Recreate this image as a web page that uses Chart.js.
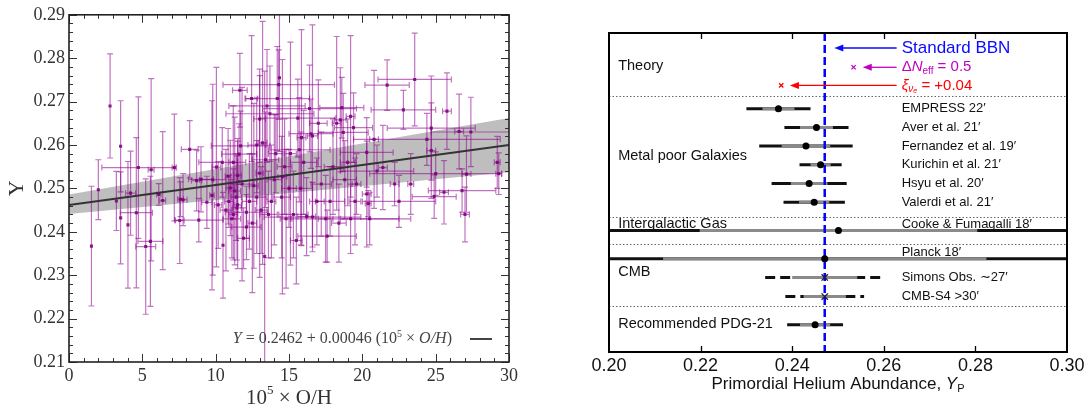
<!DOCTYPE html>
<html>
<head>
<meta charset="utf-8">
<script src="https://cdn.jsdelivr.net/npm/chart.js@4.4.1/dist/chart.umd.min.js"></script>
<style>
  html, body { margin: 0; padding: 0; background: #fff; }
  #wrap { position: relative; width: 1090px; height: 412px; overflow: hidden; }
  #left { position: absolute; left: 0; top: 0; }
  #right { position: absolute; left: 560px; top: 0; }
</style>
</head>
<body>
<div id="wrap">
  <canvas id="left" width="530" height="412"></canvas>
  <canvas id="right" width="530" height="412"></canvas>
</div>
<script>
// ---------- left panel: Y against 10^5 O/H ----------
const ohX = [1.53, 2.00, 2.80, 3.23, 3.52, 3.52, 4.02, 4.20, 4.59, 4.73, 5.23, 5.60, 5.55, 6.12, 6.39,
  7.18, 7.55, 7.60, 7.78, 8.23, 8.70, 9.00, 9.40, 8.85, 9.80, 9.75, 10.05, 10.17, 10.50, 10.45,
  10.85, 11.00, 11.30, 11.50, 11.65, 11.70, 11.60, 12.10, 12.10, 12.45, 12.60, 13.00, 13.34, 13.20,
  11.20, 10.70, 11.10, 11.40, 11.80, 12.30, 12.80, 11.90, 12.50, 12.80, 13.00, 10.90, 11.50,
  14.35, 14.30, 14.20, 13.50, 16.40, 13.70, 15.60, 15.10, 15.85, 16.60, 15.70, 13.40, 14.00, 14.50,
  14.80, 15.30, 15.80, 16.20, 16.60, 13.80, 14.55, 13.60, 15.00, 16.00, 16.50, 13.10, 14.70, 15.50,
  16.90, 14.10, 18.25, 19.20, 18.50, 19.40, 18.60, 18.70, 17.60, 19.20, 17.50, 18.00, 18.80, 19.50,
  17.20, 17.80, 19.00, 19.60, 17.00, 18.40, 20.30, 20.40, 20.30, 20.80, 21.40, 21.69, 22.20, 22.80,
  23.30, 23.57, 24.70, 24.70, 24.90, 25.57, 25.77, 26.60, 27.40, 27.10, 27.00, 29.30, 25.00, 29.20,
  24.40, 26.80, 21.00, 20.50, 22.50, 11.20, 11.45];
const heY = [0.2367, 0.2497, 0.2690, 0.2471, 0.2597, 0.2432, 0.2416, 0.2489, 0.2444, 0.2548, 0.2366, 0.2543, 0.2378, 0.2486, 0.2472,
  0.2548, 0.2426, 0.2475, 0.2474, 0.2590, 0.2518, 0.2521, 0.2468, 0.2427, 0.2520, 0.2484, 0.2549, 0.2462, 0.2369, 0.2560,
  0.2528, 0.2501, 0.2494, 0.2462, 0.2726, 0.2598, 0.2579, 0.2445, 0.2411, 0.2707, 0.2506, 0.2535, 0.2343, 0.2605,
  0.2560, 0.2450, 0.2430, 0.2480, 0.2510, 0.2470, 0.2480, 0.2385, 0.2420, 0.2600, 0.2660, 0.2470, 0.2530,
  0.2755, 0.2739, 0.2707, 0.2690, 0.2684, 0.2672, 0.2662, 0.2580, 0.2617, 0.2621, 0.2589, 0.2566, 0.2520, 0.2480,
  0.2430, 0.2440, 0.2500, 0.2435, 0.2434, 0.2470, 0.2527, 0.2440, 0.2500, 0.2560, 0.2626, 0.2450, 0.2550, 0.2380,
  0.2470, 0.2580, 0.2650, 0.2666, 0.2658, 0.2640, 0.2686, 0.2629, 0.2390, 0.2430, 0.2430, 0.2550, 0.2520, 0.2470,
  0.2510, 0.2470, 0.2560, 0.2510, 0.2650, 0.2420, 0.2583, 0.2465, 0.2487, 0.2613, 0.2548, 0.2738, 0.2510, 0.2681,
  0.2510, 0.2751, 0.2639, 0.2587, 0.2481, 0.2491, 0.2678, 0.2631, 0.2630, 0.2533, 0.2440, 0.2534, 0.2534, 0.2560,
  0.2613, 0.2495, 0.2540, 0.2430, 0.2470, 0.2440, 0.2455];
const ohErr = [0, 0, 0, 0, 0, 0, 0, 0.34, 1.10, 2.49, 0.68, 0.20, 0.85, 0.15, 0.20,
  0.15, 0.30, 0.20, 0.27, 0.57, 0.35, 0.85, 0.35, 1.65, 0.90, 0.15, 0.30, 0.25, 0, 1.60,
  0.20, 0.30, 0.40, 0.25, 0.50, 2.00, 1.20, 1.45, 1.00, 0.40, 0.30, 0.25, 0, 0.30,
  0.30, 0.40, 0.60, 0.35, 0.80, 0.50, 0.70, 0.40, 0.30, 0.60, 0.40, 0.30, 0.25,
  0, 3.80, 2.20, 2.60, 3.20, 3.00, 2.60, 0.40, 0.30, 0.35, 2.10, 0.90, 0.50, 0.60,
  0.40, 1.00, 0.80, 0.60, 3.30, 0.30, 0.30, 0.60, 0.50, 0.90, 1.50, 0.40, 0.50, 0.40,
  0.50, 0.50, 0.30, 0.30, 0.40, 1.30, 1.50, 1.70, 2.00, 4.10, 0.50, 0.60, 0.80, 0.40,
  0.70, 1.00, 0.50, 0.30, 0.60, 0.50, 1.80, 0.20, 0.30, 0.30, 0.30, 1.51, 0.30, 2.20,
  0.20, 2.50, 3.00, 0.30, 1.50, 0.30, 0.30, 0.30, 2.70, 0.30, 0.30, 0.20, 4.50, 0.20,
  5.00, 2.30, 2.50, 2.00, 2.50, 0.30, 0.30];
const heErr = [0.0138, 0.0069, 0.0120, 0.0068, 0.0105, 0.0106, 0.0146, 0.0097, 0.0173, 0.0163, 0.0156, 0.0210, 0.0150, 0.0025, 0.0159,
  0.0123, 0.0099, 0.0040, 0.0060, 0.0066, 0.0070, 0.0075, 0.0060, 0.0050, 0.0220, 0.0218, 0.0230, 0.0100, 0.0122, 0.0080,
  0.0110, 0.0110, 0.0170, 0.0147, 0.0085, 0.0080, 0.0070, 0.0060, 0.0075, 0.0145, 0.0190, 0.0240, 0.0427, 0.0280,
  0.0130, 0.0140, 0.0090, 0.0100, 0.0223, 0.0110, 0.0130, 0.0070, 0.0160, 0.0110, 0.0100, 0.0060, 0.0085,
  0.0170, 0.0080, 0.0120, 0.0130, 0.0100, 0.0110, 0.0090, 0.0257, 0.0249, 0.0256, 0.0120, 0.0110, 0.0150, 0.0140,
  0.0160, 0.0100, 0.0130, 0.0090, 0.0080, 0.0130, 0.0270, 0.0100, 0.0090, 0.0120, 0.0080, 0.0100, 0.0110, 0.0100,
  0.0100, 0.0090, 0.0200, 0.0186, 0.0120, 0.0080, 0.0070, 0.0090, 0.0060, 0.0080, 0.0100, 0.0110, 0.0090, 0.0100,
  0.0120, 0.0080, 0.0100, 0.0070, 0.0100, 0.0090, 0.0080, 0.0030, 0.0122, 0.0159, 0.0097, 0.0058, 0.0050, 0.0045,
  0.0070, 0.0107, 0.0120, 0.0110, 0.0050, 0.0073, 0.0088, 0.0086, 0.0080, 0.0088, 0.0063, 0.0048, 0.0050, 0.0060,
  0.0060, 0.0050, 0.0060, 0.0060, 0.0060, 0.0105, 0.0120];

// linear fit and its band
const fitX = [0, 30];
const fitY = [0.2462, 0.2600];
const bandHi = [0.2486, 0.2662];
const bandLo = [0.2441, 0.2537];

const ohTicks = [0, 5, 10, 15, 20, 25, 30];
const heTicks = [0.21, 0.22, 0.23, 0.24, 0.25, 0.26, 0.27, 0.28, 0.29];

// ---------- right panel: primordial helium summary ----------
const groupNames = ['Theory', 'Metal poor Galaxies', 'Intergalactic Gas', 'CMB', 'Recommended PDG-21'];
const groupY = [1.75, 6.56, 10.2, 12.76, 15.55];

const rowNames = ['EMPRESS 22′', 'Aver et al. 21′', 'Fernandez et al. 19′', 'Kurichin et al. 21′', 'Hsyu et al. 20′',
  'Valerdi et al. 21′', 'Cooke & Fumagalli 18′', 'Planck 18′', 'Simons Obs. ∼27′', 'CMB-S4 >30′', ''];
const rowY = [4.05, 5.05, 6.03, 7.03, 8.03, 9.03, 10.55, 12.05, 13.05, 14.07, 15.57];
const labelY = [4.05, 5.05, 6.03, 7.03, 8.03, 9.03, 10.2, 11.7, 13.05, 14.07, 15.57];
const ypVal = [0.2370, 0.2453, 0.2430, 0.2462, 0.2437, 0.2448, 0.2501, 0.2471, 0.2471, 0.2471, 0.2450];
const ypSig1 = [0.0035, 0.0036, 0.0053, 0.0022, 0.0040, 0.0033, 0.0303, 0.0353, 0.0071, 0.0046, 0.0033];
const ypSig2 = [0.0070, 0.0070, 0.0102, 0.0046, 0.0082, 0.0067, 0.0700, 0.0700, 0.0130, 0.0086, 0.0061];
const forecast = [false, false, false, false, false, false, false, false, true, true, false];

const theoryY = [0.8, 1.83, 2.8];
const theoryVal = [null, 0.2534, 0.2376];
const arrowTo = [0.2492, 0.2554, 0.2395];
const arrowFrom = 0.2628;
const theoryColors = ['#0a0aff', '#c000c0', '#ff0000'];
const bbnYp = 0.2471;
const sepY = [3.35, 9.82, 11.25, 14.57];
const ypTicks = [0.20, 0.22, 0.24, 0.26, 0.28, 0.30];

// draws a run of text pieces with their own font and vertical shift
function drawRich(ctx, parts, x, y, align) {
  let w = 0;
  parts.forEach(p => { ctx.font = p.f; w += ctx.measureText(p.t).width; });
  let cx = align === 'center' ? x - w / 2 : align === 'right' ? x - w : x;
  ctx.textAlign = 'left';
  ctx.textBaseline = 'middle';
  parts.forEach(p => {
    ctx.font = p.f;
    ctx.fillText(p.t, cx, y + (p.dy || 0));
    cx += ctx.measureText(p.t).width;
  });
  return w;
}

const SERIF = '"Liberation Serif", "DejaVu Serif", serif';
const SANS = '"Liberation Sans", Arial, sans-serif';

const leftDecor = {
  id: 'leftDecor',
  afterDatasetDraw(chart, args) {
    if (args.index !== 2) return;
    const { ctx, chartArea: a, scales: { x, y } } = chart;
    ctx.save();
    ctx.beginPath();
    ctx.rect(a.left, a.top, a.right - a.left, a.bottom - a.top);
    ctx.clip();
    ctx.strokeStyle = 'rgba(140,0,140,0.55)';
    ctx.lineWidth = 1.2;
    ohX.forEach((v, i) => {
      const px = x.getPixelForValue(v);
      const py = y.getPixelForValue(heY[i]);
      const t = y.getPixelForValue(heY[i] + heErr[i]);
      const b = y.getPixelForValue(heY[i] - heErr[i]);
      ctx.beginPath();
      ctx.moveTo(px, t); ctx.lineTo(px, b);
      ctx.moveTo(px - 3, t); ctx.lineTo(px + 3, t);
      ctx.moveTo(px - 3, b); ctx.lineTo(px + 3, b);
      ctx.stroke();
      if (ohErr[i] > 0) {
        const l = x.getPixelForValue(v - ohErr[i]);
        const r = x.getPixelForValue(v + ohErr[i]);
        ctx.beginPath();
        ctx.moveTo(l, py); ctx.lineTo(r, py);
        ctx.moveTo(l, py - 3); ctx.lineTo(l, py + 3);
        ctx.moveTo(r, py - 3); ctx.lineTo(r, py + 3);
        ctx.stroke();
      }
    });
    ctx.restore();
  },
  afterDraw(chart) {
    const { ctx, chartArea: a, scales: { x, y } } = chart;
    ctx.save();
    ctx.strokeStyle = '#333';
    ctx.lineWidth = 1;
    // minor + major ticks, inward on all sides
    for (let v = 0.21; v <= 0.29 + 1e-9; v += 0.002) {
      const major = heTicks.some(t => Math.abs(t - v) < 1e-6);
      const len = major ? 8 : 4;
      const py = Math.round(y.getPixelForValue(v)) + 0.5;
      ctx.beginPath();
      ctx.moveTo(a.left, py); ctx.lineTo(a.left + len, py);
      ctx.moveTo(a.right, py); ctx.lineTo(a.right - len, py);
      ctx.stroke();
    }
    for (let v = 0; v <= 30; v += 1) {
      const major = ohTicks.includes(v);
      const len = major ? 8 : 4;
      const px = Math.round(x.getPixelForValue(v)) + 0.5;
      ctx.beginPath();
      ctx.moveTo(px, a.bottom); ctx.lineTo(px, a.bottom - len);
      ctx.moveTo(px, a.top); ctx.lineTo(px, a.top + len);
      ctx.stroke();
    }
    ctx.strokeStyle = '#222';
    ctx.lineWidth = 1.6;
    ctx.strokeRect(a.left, a.top, a.right - a.left, a.bottom - a.top);

    // axis titles
    ctx.fillStyle = '#333';
    drawRich(ctx, [
      { t: '10', f: '21px ' + SERIF },
      { t: '5', f: '13px ' + SERIF, dy: -7 },
      { t: ' × O/H', f: '21px ' + SERIF }
    ], (a.left + a.right) / 2, 398, 'center');
    ctx.save();
    ctx.translate(17, (a.top + a.bottom) / 2);
    ctx.rotate(-Math.PI / 2);
    drawRich(ctx, [{ t: 'Y', f: '22px ' + SERIF }], 0, 0, 'center');
    ctx.restore();

    // legend
    const ly = 339;
    ctx.fillStyle = '#444';
    drawRich(ctx, [
      { t: 'Y', f: 'italic 16px ' + SERIF },
      { t: ' = 0.2462 + 0.00046 (10', f: '16px ' + SERIF },
      { t: '5', f: '10px ' + SERIF, dy: -5 },
      { t: ' × ', f: '16px ' + SERIF },
      { t: 'O/H', f: 'italic 16px ' + SERIF },
      { t: ')', f: '16px ' + SERIF }
    ], a.right - 57, ly, 'right');
    ctx.strokeStyle = '#444';
    ctx.lineWidth = 2;
    ctx.beginPath();
    ctx.moveTo(a.right - 39, ly); ctx.lineTo(a.right - 17, ly);
    ctx.stroke();
    ctx.restore();
  }
};

new Chart(document.getElementById('left'), {
  type: 'scatter',
  data: {
    datasets: [
      {
        label: 'galaxies',
        data: ohX.map((v, i) => ({ x: v, y: heY[i] })),
        pointStyle: 'rect',
        pointRadius: 2.2,
        backgroundColor: 'rgba(120,0,120,0.85)',
        borderWidth: 0
      },
      {
        label: 'fit',
        data: fitX.map((v, i) => ({ x: v, y: fitY[i] })),
        showLine: true, borderColor: '#333', borderWidth: 2, pointRadius: 0
      },
      {
        label: 'band hi',
        data: fitX.map((v, i) => ({ x: v, y: bandHi[i] })),
        showLine: true, borderWidth: 0, borderColor: 'rgba(0,0,0,0)', pointRadius: 0
      },
      {
        label: 'band lo',
        data: fitX.map((v, i) => ({ x: v, y: bandLo[i] })),
        showLine: true, borderWidth: 0, borderColor: 'rgba(0,0,0,0)', pointRadius: 0,
        fill: '-1', backgroundColor: 'rgb(190,190,190)'
      }
    ]
  },
  options: {
    responsive: false,
    animation: false,
    layout: { padding: { top: 13, right: 21, left: 0, bottom: 0 } },
    plugins: { legend: { display: false }, tooltip: { enabled: false } },
    scales: {
      x: {
        type: 'linear', min: 0, max: 30,
        afterBuildTicks: s => { s.ticks = ohTicks.map(v => ({ value: v })); },
        ticks: { callback: v => String(v), font: { family: SERIF, size: 18 }, color: '#333', padding: 3, maxRotation: 0, autoSkip: false },
        grid: { display: false, drawTicks: false },
        border: { display: false },
        afterFit: s => { s.height = 50; }
      },
      y: {
        type: 'linear', min: 0.21, max: 0.29,
        afterBuildTicks: s => { s.ticks = heTicks.map(v => ({ value: v })); },
        ticks: { callback: v => v.toFixed(2), font: { family: SERIF, size: 18 }, color: '#333', padding: 4, autoSkip: false },
        grid: { display: false, drawTicks: false },
        border: { display: false },
        afterFit: s => { s.width = 69; }
      }
    }
  },
  plugins: [leftDecor]
});

// ---------- right panel ----------
const rightDecor = {
  id: 'rightDecor',
  beforeDatasetsDraw(chart) {
    const { ctx, chartArea: a, scales: { y } } = chart;
    ctx.save();
    ctx.strokeStyle = '#666';
    ctx.lineWidth = 1;
    ctx.setLineDash([1.5, 2]);
    sepY.forEach(v => {
      const py = Math.round(y.getPixelForValue(v)) + 0.5;
      ctx.beginPath(); ctx.moveTo(a.left, py); ctx.lineTo(a.right, py); ctx.stroke();
    });
    ctx.restore();
  },
  afterDraw(chart) {
    const { ctx, chartArea: a, scales: { x, y } } = chart;
    ctx.save();
    ctx.strokeStyle = '#000';
    ctx.lineWidth = 2;
    ctx.strokeRect(a.left, a.top, a.right - a.left, a.bottom - a.top);
    ctx.lineWidth = 1.3;
    ypTicks.slice(1, -1).forEach(v => {
      const px = Math.round(x.getPixelForValue(v)) + 0.5;
      ctx.beginPath();
      ctx.moveTo(px, a.top); ctx.lineTo(px, a.top + 6);
      ctx.moveTo(px, a.bottom); ctx.lineTo(px, a.bottom - 6);
      ctx.stroke();
    });

    ctx.fillStyle = '#111';
    const gx = x.getPixelForValue(0.202);
    groupNames.forEach((t, i) => drawRich(ctx, [{ t, f: '14.5px ' + SANS }], gx, y.getPixelForValue(groupY[i]), 'left'));
    const lx = x.getPixelForValue(0.2639);
    rowNames.forEach((t, i) => { if (t) drawRich(ctx, [{ t, f: '13px ' + SANS }], lx, y.getPixelForValue(labelY[i]), 'left'); });

    // theory arrows
    theoryY.forEach((v, i) => {
      const py = y.getPixelForValue(v);
      const x0 = x.getPixelForValue(arrowFrom);
      const x1 = x.getPixelForValue(arrowTo[i]);
      ctx.strokeStyle = theoryColors[i];
      ctx.fillStyle = theoryColors[i];
      ctx.lineWidth = 1.3;
      ctx.beginPath(); ctx.moveTo(x0, py); ctx.lineTo(x1 + 6, py); ctx.stroke();
      ctx.beginPath();
      ctx.moveTo(x1, py); ctx.lineTo(x1 + 9, py - 3.5); ctx.lineTo(x1 + 9, py + 3.5); ctx.closePath();
      ctx.fill();
    });
    ctx.fillStyle = theoryColors[0];
    drawRich(ctx, [{ t: 'Standard BBN', f: '17px ' + SANS }], lx, y.getPixelForValue(theoryY[0]), 'left');
    ctx.fillStyle = theoryColors[1];
    drawRich(ctx, [
      { t: 'Δ', f: '15px ' + SANS },
      { t: 'N', f: 'italic 15px ' + SANS },
      { t: 'eff', f: '10px ' + SANS, dy: 4 },
      { t: ' = 0.5', f: '15px ' + SANS }
    ], lx, y.getPixelForValue(theoryY[1]), 'left');
    ctx.fillStyle = theoryColors[2];
    drawRich(ctx, [
      { t: 'ξ', f: 'italic 15px ' + SANS },
      { t: 'ν', f: 'italic 10px ' + SANS, dy: 4 },
      { t: 'e', f: 'italic 7px ' + SANS, dy: 6 },
      { t: ' = +0.04', f: '15px ' + SANS }
    ], lx, y.getPixelForValue(theoryY[2]), 'left');

    // axis title
    ctx.fillStyle = '#111';
    drawRich(ctx, [
      { t: 'Primordial Helium Abundance, ', f: '17px ' + SANS },
      { t: 'Y', f: 'italic 17px ' + SANS },
      { t: 'P', f: '11px ' + SANS, dy: 5 }
    ], (a.left + a.right) / 2, 384, 'center');
    ctx.restore();
  }
};

const rightSets = [];
// measured central values
rightSets.push({
  label: 'measurements',
  data: rowY.map((v, i) => ({ x: ypVal[i], y: v })).filter((p, i) => !forecast[i]),
  pointStyle: 'circle', pointRadius: 3.5, backgroundColor: '#000', borderWidth: 0, order: 0
});
rightSets.push({
  label: 'forecasts',
  data: rowY.map((v, i) => ({ x: ypVal[i], y: v })).filter((p, i) => forecast[i]),
  pointStyle: 'crossRot', pointRadius: 4.5, borderColor: '#1a1a40', borderWidth: 1.3, order: 0
});
theoryVal.forEach((v, i) => {
  if (v === null) return;
  rightSets.push({
    label: 'theory ' + i,
    data: [{ x: v, y: theoryY[i] }],
    pointStyle: 'crossRot', pointRadius: 3, borderColor: theoryColors[i], borderWidth: 1.3, order: 0
  });
});
rightSets.push({
  label: 'Standard BBN',
  data: [{ x: bbnYp, y: 0 }, { x: bbnYp, y: 17.03 }],
  showLine: true, borderColor: '#0000ff', borderWidth: 2.5, borderDash: [8, 4], pointRadius: 0, order: 1
});
rowY.forEach((v, i) => {
  rightSets.push({
    label: rowNames[i] + ' 1σ',
    data: [{ x: ypVal[i] - ypSig1[i], y: v }, { x: ypVal[i] + ypSig1[i], y: v }],
    showLine: true, borderColor: '#8a8a8a', borderWidth: 3, pointRadius: 0, order: 2
  });
  rightSets.push({
    label: rowNames[i] + ' 2σ',
    data: [{ x: ypVal[i] - ypSig2[i], y: v }, { x: ypVal[i] + ypSig2[i], y: v }],
    showLine: true, borderColor: '#111', borderWidth: 3, pointRadius: 0,
    borderDash: forecast[i] ? [10, 5] : [], order: 3
  });
});

new Chart(document.getElementById('right'), {
  type: 'scatter',
  data: { datasets: rightSets },
  options: {
    responsive: false,
    animation: false,
    layout: { padding: { top: 33, right: 23, left: 49, bottom: 0 } },
    plugins: { legend: { display: false }, tooltip: { enabled: false } },
    scales: {
      x: {
        type: 'linear', min: 0.2, max: 0.3,
        afterBuildTicks: s => { s.ticks = ypTicks.map(v => ({ value: v })); },
        ticks: { callback: v => v.toFixed(2), font: { family: SANS, size: 18 }, color: '#111', padding: 3, maxRotation: 0, autoSkip: false },
        grid: { display: false, drawTicks: false },
        border: { display: false },
        afterFit: s => { s.height = 60; }
      },
      y: { type: 'linear', display: false, min: 0, max: 17.03, reverse: true }
    }
  },
  plugins: [rightDecor]
});
</script>
</body>
</html>
